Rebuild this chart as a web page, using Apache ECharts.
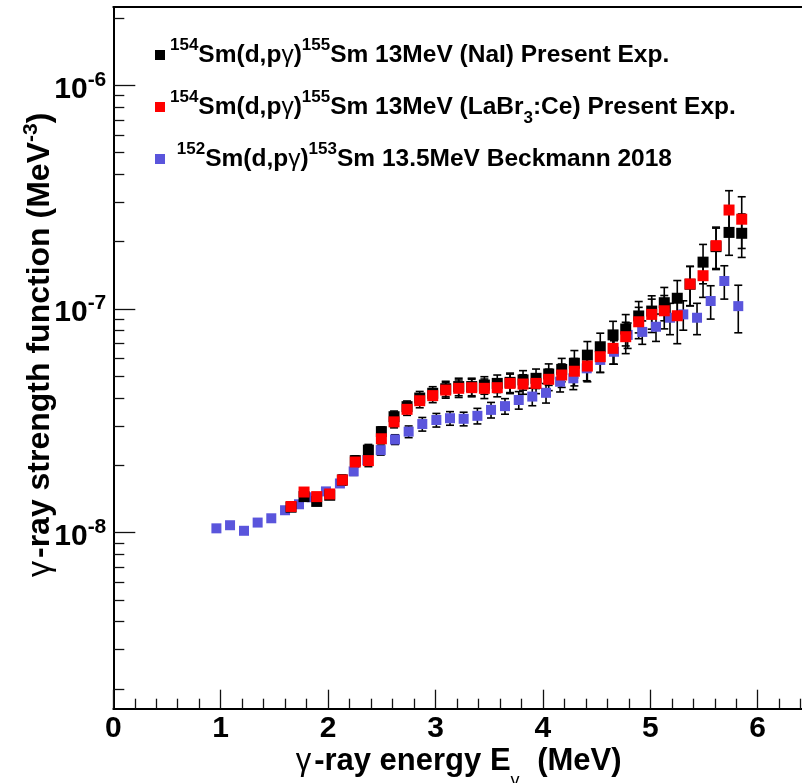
<!DOCTYPE html>
<html><head><meta charset="utf-8">
<script src="https://cdn.jsdelivr.net/npm/echarts@6/dist/echarts.min.js"></script>
<style>html,body{margin:0;padding:0;background:#fff}#c{width:802px;height:783px}</style>
</head><body><div id="c"></div>
<script>
// ---------------- data ----------------
const UNIT = 1e-8; // strength values below are in units of 1e-8 MeV^-3

// Present experiment energies (MeV), shared by NaI and LaBr3 sets
const presentE = [1.655,1.776,1.894,2.015,2.133,2.253,2.375,2.496,2.614,2.735,2.853,2.974,3.095,3.216,3.337,3.455,3.575,3.694,3.815,3.936,4.054,4.175,4.293,4.414,4.534,4.653,4.771,4.892,5.013,5.130,5.251,5.370,5.491,5.612,5.733,5.851];
// 154Sm(d,p gamma) NaI
const naiF = [1.30,1.45,1.38,1.47,1.72,2.10,2.34,2.83,3.30,3.66,4.00,4.20,4.40,4.50,4.50,4.57,4.65,4.70,4.82,4.90,5.12,5.37,5.72,6.22,6.78,7.66,8.14,9.31,9.79,10.67,11.17,12.90,16.20,19.00,22.00,21.80];
const naiErrPct = [3,4,4,4,5,5,6,5,6,6,7,7,8,9,9,9,9,10,10,10,11,12,14,15,15,15,16,16,17,17,20,20,20,21,21,22];
// 154Sm(d,p gamma) LaBr3:Ce
const labrF = [1.31,1.52,1.45,1.49,1.72,2.07,2.10,2.63,3.13,3.56,3.89,4.10,4.34,4.42,4.45,4.42,4.45,4.65,4.62,4.65,4.85,5.07,5.27,5.56,6.12,6.67,7.52,8.77,9.46,9.82,9.33,12.94,14.09,19.20,27.70,25.20];
const labrErrPct = [3,4,4,4,5,5,6,5,6,6,7,7,8,9,9,10,9,10,10,10,11,12,14,15,15,15,16,16,17,17,25,20,20,21,22,26];
// 152Sm(d,p gamma) Beckmann 2018
const beckE = [0.960,1.087,1.217,1.344,1.471,1.599,1.729,1.847,1.980,2.110,2.238,2.365,2.490,2.623,2.750,2.877,3.008,3.135,3.262,3.390,3.517,3.647,3.775,3.901,4.029,4.160,4.283,4.408,4.534,4.662,4.789,4.925,5.053,5.183,5.307,5.435,5.562,5.689,5.819];
const beckF = [1.046,1.08,1.02,1.11,1.16,1.26,1.34,1.44,1.53,1.66,1.88,2.11,2.34,2.61,2.83,3.06,3.19,3.25,3.23,3.33,3.54,3.68,3.92,4.06,4.22,4.73,4.90,5.43,5.92,6.44,7.66,7.90,8.33,9.14,9.46,9.14,10.86,13.34,10.30];
const beckErrPct = [2,2,2,2,2,3,3,3,3,3,4,4,5,5,6,7,7,7,7,8,8,8,9,9,10,10,11,12,12,12,13,12,14,16,15,16,17,17,24];

// axis ranges / tick values / labels
const X_MIN = 0, X_MAX = 6.43;
const xTickLabels = ['0','1','2','3','4','5','6'];
const yDecades = [1e-8, 1e-7, 1e-6];
const yDecadeExp = ['-8', '-7', '-6'];
const Y_MIN = 1.634e-9, Y_MAX = 2.239e-6;

const seriesNames = ['NaI', 'LaBr3', 'Beckmann'];
const legendTexts = [
  '{sup|154}{m|Sm(d,p}{g|γ}{m|)}{sup|155}{m|Sm 13MeV (NaI) Present Exp.}',
  '{sup|154}{m|Sm(d,p}{g|γ}{m|)}{sup|155}{m|Sm 13MeV (LaBr}{sub|3}{m|:Ce) Present Exp.}',
  '{m| }{sup|152}{m|Sm(d,p}{g|γ}{m|)}{sup|153}{m|Sm 13.5MeV Beckmann 2018}'
];
const colors = ['#000000', '#ff0000', '#5a55dc'];

// ---------------- chart ----------------
const FONT = 'Liberation Sans';
const yMinor = [];
[1e-9, 1e-8, 1e-7, 1e-6].forEach(d => {
  for (let k = 2; k <= 9; k++) { const v = k * d; if (v > Y_MIN && v < Y_MAX) yMinor.push(v); }
});
const xMinor = [];
for (let k = 1; k <= 32; k++) { if (k % 5 !== 0) xMinor.push(Math.round(k * 2) / 10); }

function pts(xs, fs) { return xs.map((x, i) => [x, fs[i] * UNIT]); }
function errData(xs, fs, pct) {
  return xs.map((x, i) => [x, fs[i] * UNIT * (1 - pct[i] / 100), fs[i] * UNIT * (1 + pct[i] / 100)]);
}
function errSeries(data, z) {
  return {
    type: 'custom', data: data, z: z, silent: true, encode: { x: 0, y: [1, 2] },
    renderItem: function (params, api) {
      const x = api.value(0);
      const lo = api.coord([x, api.value(1)]);
      const hi = api.coord([x, api.value(2)]);
      const w = 4;
      const st = { stroke: '#000', lineWidth: 1.6 };
      return { type: 'group', children: [
        { type: 'line', shape: { x1: lo[0], y1: lo[1], x2: hi[0], y2: hi[1] }, style: st },
        { type: 'line', shape: { x1: lo[0] - w, y1: lo[1], x2: lo[0] + w, y2: lo[1] }, style: st },
        { type: 'line', shape: { x1: hi[0] - w, y1: hi[1], x2: hi[0] + w, y2: hi[1] }, style: st }
      ] };
    }
  };
}

const legendRich = {
  m: { fontFamily: FONT, fontSize: 24.5, fontWeight: 'bold', color: '#000', lineHeight: 40 },
  g: { fontFamily: FONT, fontSize: 24.5, fontWeight: 'normal', color: '#000', lineHeight: 40 },
  sup: { fontFamily: FONT, fontSize: 17, fontWeight: 'bold', color: '#000', lineHeight: 18, verticalAlign: 'top', padding: [2, 0, 0, 0] },
  sub: { fontFamily: FONT, fontSize: 17, fontWeight: 'bold', color: '#000', lineHeight: 14, verticalAlign: 'bottom' }
};
function legendFor(i, top) {
  return {
    data: [seriesNames[i]], left: 155, top: top, padding: 0, orient: 'vertical',
    icon: 'rect', itemWidth: 10, itemHeight: 10, selectedMode: false,
    formatter: function () { return legendTexts[i]; },
    textStyle: { color: '#000', rich: legendRich }
  };
}
function tl() { return { color: '#111', width: 1.3 }; }

const option = {
  animation: false,
  grid: { left: 113.3, top: 7, width: 690.6, height: 701.7, show: false,
          containLabel: false, outerBoundsMode: 'none' },
  legend: [legendFor(0, 35), legendFor(1, 87), legendFor(2, 139)],
  // plain white strip that masks a stray 1px rendering line at the clipped right edge of the frame
  graphic: [{ type: 'rect', z: 1000, silent: true, shape: { x: 797, y: 9, width: 6, height: 688 }, style: { fill: '#fff' } }],
  xAxis: [{
    type: 'value', min: X_MIN, max: X_MAX, interval: 1, position: 'bottom',
    axisLine: { show: true, onZero: false, lineStyle: { color: '#000', width: 2 } },
    axisTick: { show: true, inside: true, length: 19, lineStyle: tl() },
    minorTick: { show: false },
    splitLine: { show: false }, minorSplitLine: { show: false },
    axisLabel: { margin: 5, fontSize: 30, fontWeight: 'bold', fontFamily: FONT, color: '#000',
                 showMinLabel: true, showMaxLabel: false,
                 formatter: function (v) { const i = Math.round(v); return (Math.abs(v - i) < 1e-6 && xTickLabels[i] !== undefined) ? xTickLabels[i] : ''; } },
    name: '{g|γ}{b|-ray energy E}{sub|γ}{b| (MeV)}',
    nameLocation: 'middle', nameGap: 37, nameMoveOverlap: false,
    nameTextStyle: { rich: {
      b: { fontFamily: FONT, fontSize: 31, fontWeight: 'bold', color: '#000', lineHeight: 32, verticalAlign: 'top' },
      g: { fontFamily: FONT, fontSize: 31, fontWeight: 'normal', color: '#000', lineHeight: 32, verticalAlign: 'top', padding: [0, 3, 0, 0] },
      sub: { fontFamily: FONT, fontSize: 18, fontWeight: 'normal', color: '#000', lineHeight: 16, verticalAlign: 'top', padding: [26, 9, 0, 0] }
    } }
  }, {
    type: 'value', min: X_MIN, max: X_MAX, position: 'bottom',
    axisLine: { show: false },
    axisTick: { show: true, inside: true, length: 10, customValues: xMinor, lineStyle: tl() },
    axisLabel: { show: false }, splitLine: { show: false }, minorTick: { show: false }
  }, {
    type: 'value', min: X_MIN, max: X_MAX, position: 'top',
    axisLine: { show: true, onZero: false, lineStyle: { color: '#000', width: 2 } },
    axisTick: { show: false }, axisLabel: { show: false }, splitLine: { show: false }
  }],
  yAxis: [
    {
      type: 'log', logBase: 10, min: Y_MIN, max: Y_MAX, position: 'left',
      axisLine: { show: true, onZero: false, lineStyle: { color: '#000', width: 2 } },
      axisTick: { show: true, inside: true, length: 22, customValues: yDecades, lineStyle: tl() },
      minorTick: { show: false }, splitLine: { show: false },
      axisLabel: {
        customValues: yDecades, margin: 7, padding: [8, 0, 0, 0],
        formatter: function (v) {
          let best = 0;
          yDecades.forEach((d, i) => { if (Math.abs(Math.log10(d) - Math.log10(v)) < Math.abs(Math.log10(yDecades[best]) - Math.log10(v))) best = i; });
          return '{m|10}{e|' + yDecadeExp[best] + '}';
        },
        rich: {
          m: { fontFamily: FONT, fontSize: 30, fontWeight: 'bold', color: '#000', lineHeight: 40 },
          e: { fontFamily: FONT, fontSize: 21, fontWeight: 'bold', color: '#000', lineHeight: 20, verticalAlign: 'top' }
        }
      },
      name: '{g|γ}{b|-ray strength function (MeV}{s|-3}{b|)}',
      nameLocation: 'middle', nameGap: 53, nameRotate: 90, nameMoveOverlap: false,
      nameTextStyle: { padding: [0, 0, 0, 26], rich: {
        b: { fontFamily: FONT, fontSize: 32, fontWeight: 'bold', color: '#000', lineHeight: 40 },
        g: { fontFamily: FONT, fontSize: 32, fontWeight: 'normal', color: '#000', lineHeight: 40, padding: [0, 3, 0, 0] },
        s: { fontFamily: FONT, fontSize: 21, fontWeight: 'bold', color: '#000', lineHeight: 22, verticalAlign: 'top' }
      } }
    },
    {
      type: 'log', logBase: 10, min: Y_MIN, max: Y_MAX, position: 'left',
      axisLine: { show: false },
      axisTick: { show: true, inside: true, length: 11, customValues: yMinor, lineStyle: tl() },
      axisLabel: { show: false }, splitLine: { show: false }, minorTick: { show: false }
    }
  ],
  series: [
    errSeries(errData(beckE, beckF, beckErrPct), 2),
    errSeries(errData(presentE, naiF, naiErrPct), 2),
    errSeries(errData(presentE, labrF, labrErrPct), 2),
    { name: seriesNames[2], type: 'scatter', symbol: 'rect', symbolSize: 10, z: 3,
      itemStyle: { color: colors[2], opacity: 1 }, data: pts(beckE, beckF) },
    { name: seriesNames[0], type: 'scatter', symbol: 'rect', symbolSize: 11, z: 4,
      itemStyle: { color: colors[0], opacity: 1 }, data: pts(presentE, naiF) },
    { name: seriesNames[1], type: 'scatter', symbol: 'rect', symbolSize: 11, z: 5,
      itemStyle: { color: colors[1], opacity: 1 }, data: pts(presentE, labrF) }
  ]
};
const chart = echarts.init(document.getElementById('c'), null, { renderer: 'canvas' });
chart.setOption(option);
</script>
</body></html>
